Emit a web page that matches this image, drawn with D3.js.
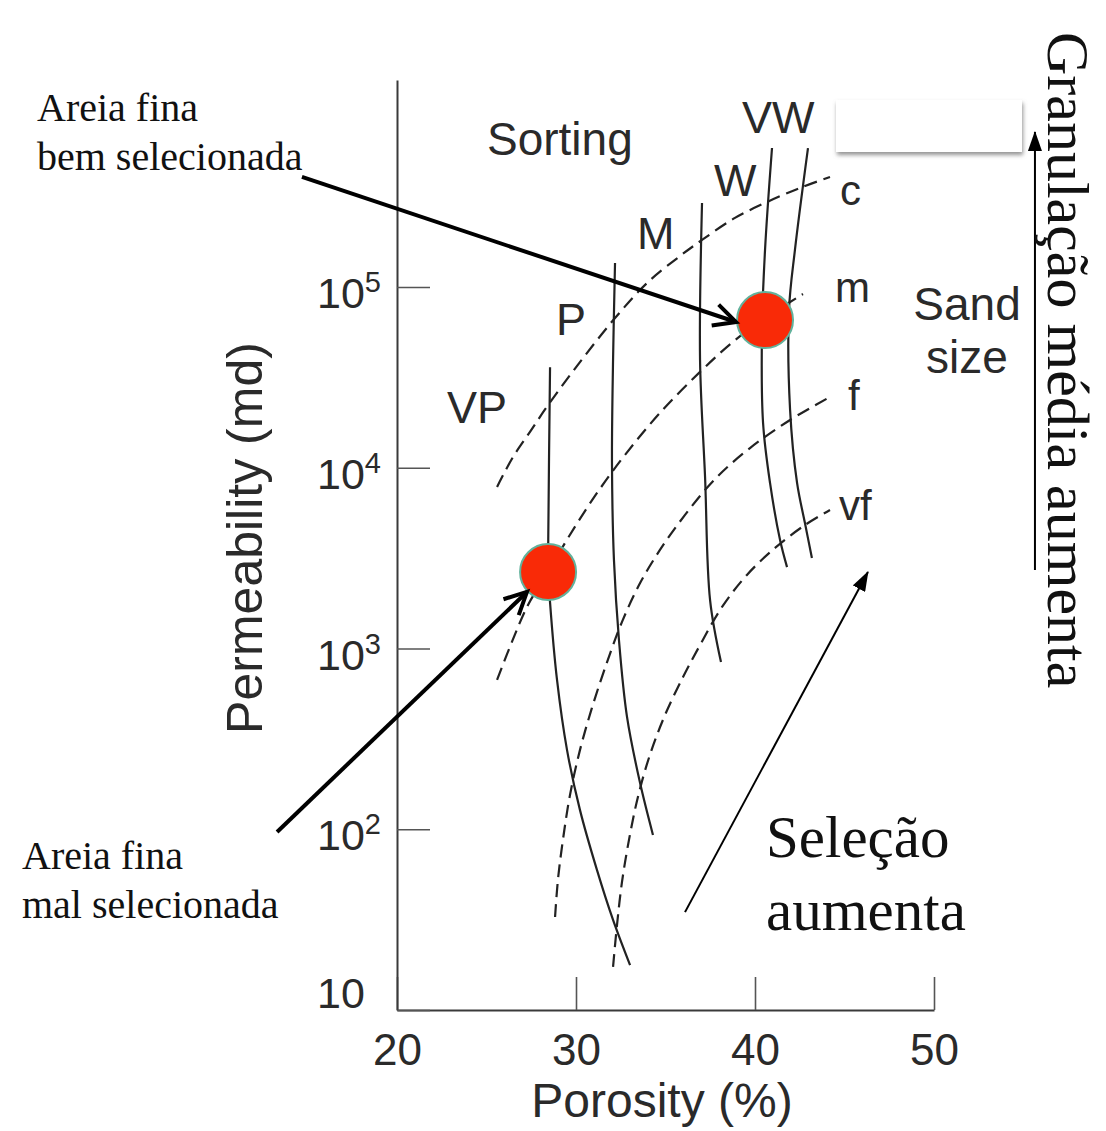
<!DOCTYPE html>
<html>
<head>
<meta charset="utf-8">
<script src="https://cdn.jsdelivr.net/npm/d3@7"></script>
<style>
  body { margin: 0; background: #fff; }
  svg { display: block; }
</style>
</head>
<body>
<svg id="chart" width="1106" height="1131"></svg>
<script>
// Axis ticks
const porosityTicks = [20, 30, 40, 50];
const permeabilityTicks = [10, 100, 1000, 10000, 100000];

// Sorting curves (solid): [porosity %, permeability md]
const sortingVP = [[28.55, 36000], [28.45, 4000], [28.45, 2650], [28.55, 1800], [28.94, 670], [29.50, 274], [30.22, 128], [31.17, 59.6], [32.07, 31.5], [33.02, 17.7]];
const sortingP  = [[32.18, 135800], [32.07, 39400], [32.01, 10600], [32.12, 3090], [32.40, 1114], [32.85, 418], [33.58, 180], [34.30, 93]];
const sortingM  = [[37.04, 291700], [36.93, 39400], [37.21, 8890], [37.49, 1850], [38.10, 841]];
const sortingW  = [[40.95, 587000], [40.56, 160000], [40.39, 57800], [40.45, 17700], [40.84, 8240], [41.40, 3980], [41.79, 2820]];
const sortingVW = [[42.96, 587000], [42.23, 160000], [41.90, 74600], [41.96, 20900], [42.35, 8240], [42.79, 4940], [43.18, 3170]];

// Sand size curves (dashed)
const sizeC  = [[25.59, 7830], [26.48, 11460], [27.43, 15800], [28.44, 22200], [30.22, 38400], [32.18, 67300], [33.97, 105200], [35.81, 148300], [37.04, 182000], [38.88, 241000], [40.67, 295000], [42.51, 353000], [44.19, 406000]];
const sizeM  = [[25.59, 670], [26.42, 1087], [27.32, 1742], [28.44, 2650], [29.55, 4080], [31.06, 6980], [32.74, 11780], [34.69, 20100], [36.93, 33900], [38.77, 49700], [40.56, 67300], [42.68, 91400]];
const sizeF  = [[28.83, 32.7], [28.99, 52.4], [29.27, 87.3], [29.66, 154], [30.22, 274], [30.89, 469], [31.68, 811], [32.57, 1403], [33.58, 2300], [34.69, 3510], [36.09, 5480], [37.77, 8670], [39.72, 12850], [41.96, 18370], [44.08, 24300]];
const sizeVF = [[32.07, 17.3], [32.29, 29.5], [32.57, 51.1], [32.96, 87.3], [33.46, 151], [34.13, 258], [34.97, 428], [35.98, 695], [36.93, 1045], [38.16, 1698], [39.55, 2553], [41.12, 3600], [42.79, 4820], [44.19, 5840]];

// Highlighted samples
const samples = [
  { name: "mal selecionada", porosity: 28.44, permeability: 2650 },
  { name: "bem selecionada", porosity: 40.56, permeability: 65600 }
];

// Pointer arrows (tail -> head) in porosity / permeability units
const pointerThick = [
  [[14.69, 406000], [38.94, 64000]],
  [[13.30, 96.6], [27.26, 2055]]
];
const pointerSorting = [[36.09, 34.8], [46.31, 2650]];
const pointerGrain = [[55.64, 2717], [55.64, 721000]];

const svg = d3.select("#chart");
const sans = "'Liberation Sans', Arial, Helvetica, sans-serif";
const serif = "'Liberation Serif', 'Times New Roman', serif";
const ink = "#2a2a2a";

const x = d3.scaleLinear().domain([20, 50]).range([397, 934]);
const y = d3.scaleLog().domain([10, Math.pow(10, 6.145)]).range([1010, 80]);

// Markers
const defs = svg.append("defs");
defs.append("marker")
  .attr("id", "openHead").attr("markerUnits", "userSpaceOnUse")
  .attr("markerWidth", 30).attr("markerHeight", 28)
  .attr("refX", 25).attr("refY", 14).attr("orient", "auto")
  .append("path").attr("d", "M3,3 L25,14 L3,25")
  .attr("fill", "none").attr("stroke", "#000").attr("stroke-width", 4);
defs.append("marker")
  .attr("id", "solidHead").attr("markerUnits", "userSpaceOnUse")
  .attr("markerWidth", 20).attr("markerHeight", 14)
  .attr("refX", 19).attr("refY", 7).attr("orient", "auto")
  .append("path").attr("d", "M0,0 L20,7 L0,14 Z").attr("fill", "#000");
const shadow = defs.append("filter").attr("id", "boxShadow")
  .attr("x", "-10%").attr("y", "-20%").attr("width", "130%").attr("height", "160%");
shadow.append("feDropShadow").attr("dx", 1).attr("dy", 3).attr("stdDeviation", 2)
  .attr("flood-color", "#777").attr("flood-opacity", 0.8);

// X axis
const gx = svg.append("g").attr("transform", "translate(0,1010)")
  .call(d3.axisBottom(x).tickValues(porosityTicks).tickSizeInner(-33).tickSizeOuter(0)
    .tickPadding(24).tickFormat(d3.format("d")));
gx.attr("font-family", sans).attr("font-size", 44);
gx.select(".domain").attr("stroke", "#3a3a3a").attr("stroke-width", 2);
gx.selectAll(".tick line").attr("stroke", "#555").attr("stroke-width", 1.6);
gx.selectAll(".tick text").attr("fill", ink);

// Y axis (log)
const gy = svg.append("g").attr("transform", "translate(397,0)")
  .call(d3.axisLeft(y).tickValues(permeabilityTicks).tickSizeInner(-33).tickSizeOuter(0)
    .tickPadding(10));
gy.attr("font-family", sans).attr("font-size", 43);
gy.select(".domain").attr("stroke", "#3a3a3a").attr("stroke-width", 2);
gy.selectAll(".tick line").attr("stroke", "#555").attr("stroke-width", 1.6);
gy.selectAll(".tick text").each(function (d) {
  const t = d3.select(this).text(null)
    .attr("text-anchor", "start").attr("x", -80).attr("fill", ink)
    .attr("dy", d === 10 ? "-0.05em" : "0.48em");
  t.append("tspan").text("10");
  const e = Math.round(Math.log10(d));
  if (e > 1) t.append("tspan").attr("dy", -16).attr("font-size", 29).text(e);
});

// Axis titles
svg.append("text").attr("x", 662).attr("y", 1117).attr("text-anchor", "middle")
  .attr("font-family", sans).attr("font-size", 48).attr("fill", ink).text("Porosity (%)");
svg.append("text").attr("transform", "translate(262,538) rotate(-90)").attr("text-anchor", "middle")
  .attr("font-family", sans).attr("font-size", 50).attr("fill", ink).text("Permeability (md)");

// Curves
const line = d3.line().x(d => x(d[0])).y(d => y(d[1])).curve(d3.curveCatmullRom.alpha(0.5));
const curves = svg.append("g").attr("fill", "none").attr("stroke", "#222");
[sortingVP, sortingP, sortingM, sortingW, sortingVW].forEach(s =>
  curves.append("path").attr("d", line(s)).attr("stroke-width", 2.2));
[sizeC, sizeM, sizeF, sizeVF].forEach(s =>
  curves.append("path").attr("d", line(s)).attr("stroke-width", 2.2).attr("stroke-dasharray", "13,7"));

// Curve labels
const sortingLabels = [["VW", 742, 133], ["W", 714, 196], ["M", 637, 249], ["P", 556, 335], ["VP", 447, 423]];
const sizeLabels = [["c", 840, 205], ["m", 835, 302], ["f", 848, 410], ["vf", 839, 520]];
svg.append("g").attr("font-family", sans).attr("font-size", 45).attr("fill", ink)
  .selectAll("text").data(sortingLabels).join("text")
  .attr("x", d => d[1]).attr("y", d => d[2]).text(d => d[0]);
svg.append("g").attr("font-family", sans).attr("font-size", 42).attr("fill", ink)
  .selectAll("text").data(sizeLabels).join("text")
  .attr("x", d => d[1]).attr("y", d => d[2]).text(d => d[0]);
svg.append("text").attr("x", 487).attr("y", 155).attr("font-family", sans)
  .attr("font-size", 46).attr("fill", ink).text("Sorting");
const sand = svg.append("text").attr("font-family", sans).attr("font-size", 46)
  .attr("fill", ink).attr("text-anchor", "middle");
sand.append("tspan").attr("x", 967).attr("y", 320).text("Sand");
sand.append("tspan").attr("x", 967).attr("y", 373).text("size");

// Blank label box
svg.append("rect").attr("x", 836).attr("y", 100).attr("width", 186).attr("height", 52)
  .attr("fill", "#fff").attr("filter", "url(#boxShadow)");

// Sample points
svg.append("g").selectAll("circle").data(samples).join("circle")
  .attr("cx", d => x(d.porosity)).attr("cy", d => y(d.permeability)).attr("r", 28)
  .attr("fill", "#f92a07").attr("stroke", "#62b29c").attr("stroke-width", 2);

// Arrows
const seg = p => `M${x(p[0][0])},${y(p[0][1])}L${x(p[1][0])},${y(p[1][1])}`;
pointerThick.forEach(p => svg.append("path").attr("d", seg(p)).attr("stroke", "#000")
  .attr("stroke-width", 4).attr("fill", "none").attr("marker-end", "url(#openHead)"));
[pointerSorting, pointerGrain].forEach(p => svg.append("path").attr("d", seg(p)).attr("stroke", "#000")
  .attr("stroke-width", 2).attr("fill", "none").attr("marker-end", "url(#solidHead)"));

// Annotations
const note = (lines, x0, y0, size, gap) => {
  const t = svg.append("text").attr("font-family", serif).attr("font-size", size).attr("fill", "#111");
  lines.forEach((s, i) => t.append("tspan").attr("x", x0).attr("y", y0 + i * gap).text(s));
};
note(["Areia fina", "bem selecionada"], 37, 121, 40, 49);
note(["Areia fina", "mal selecionada"], 22, 869, 40, 49);
note(["Seleção", "aumenta"], 766, 857, 59, 73);
svg.append("text").attr("transform", "translate(1048,32) rotate(90)")
  .attr("font-family", serif).attr("font-size", 60).attr("fill", "#111")
  .text("Granulação média aumenta");
</script>
</body>
</html>
